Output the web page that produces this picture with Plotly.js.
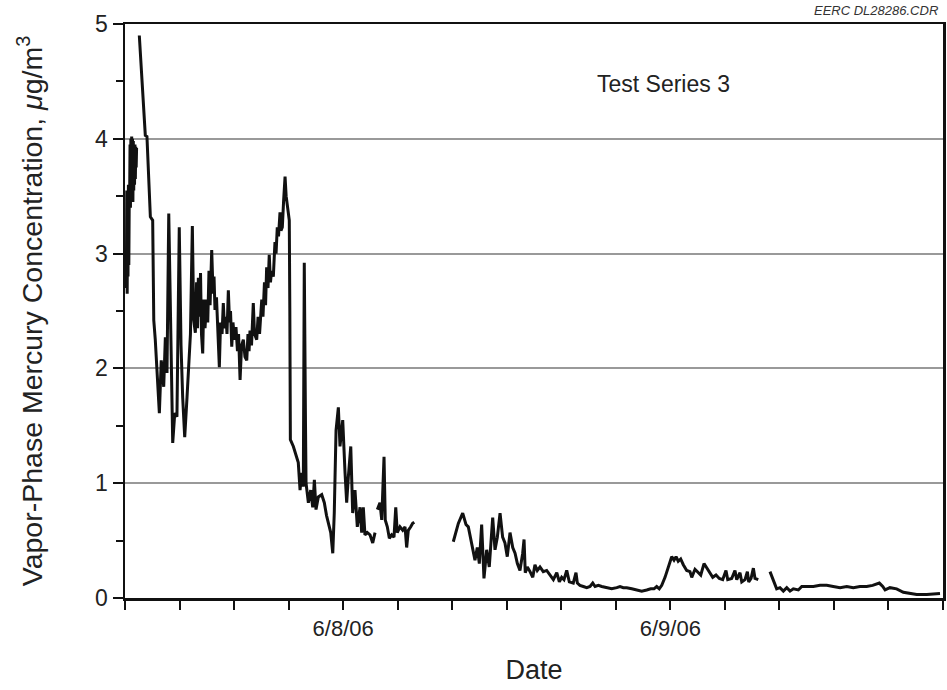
<!DOCTYPE html>
<html>
<head>
<meta charset="utf-8">
<script src="https://cdn.plot.ly/plotly-3.0.1.min.js"></script>
<style>html,body{margin:0;padding:0;background:#fff;}#chart{width:947px;height:690px;}</style>
</head>
<body>
<div id="chart"></div>
<script>
// Elapsed hours since 2006-06-07 08:00 (null = gap in record)
const hours = [
 0.10,0.13,0.16,0.19,0.22,0.25,0.28,0.31,0.34,0.37,0.40,0.43,0.46,0.49,0.52,0.55,0.58,0.61,0.64,0.67,0.70,0.73,0.76,0.79,0.82,0.85, null,
 1.05,1.49,1.61,1.86,2.03,2.11,2.22,2.35,2.52,2.66,2.84,2.96,3.08,3.21,3.34,3.45,3.50,3.65,3.81,3.98,4.11,4.23,4.38,4.55,4.67,4.80,4.94,5.04,
 5.16,5.25,5.32,5.38,5.47,5.54,5.61,5.70,5.78,5.87,5.99,6.07,6.16,6.24,6.36,6.46,6.53,6.60,6.71,6.82,6.92,7.01,7.12,7.21,7.30,7.41,7.48,7.58,7.67,7.74,7.83,7.92,8.03,8.14,8.25,8.33,8.44,8.55,8.68,8.80,8.93,9.02,9.10,9.17,9.28,9.41,9.50,9.66,9.76,9.87,10.03,10.12,10.23,10.31,10.39,10.49,10.58,10.67,10.75,10.88,11.00,11.08,11.17,11.26,11.37,11.44,11.54,11.63,11.74,11.82,11.91,11.99,12.05,12.09,12.13,
 12.35,12.54,12.71,12.84,12.96,13.08,13.15,13.24,13.28,13.45,13.62,13.77,13.89,14.01,14.18,14.43,14.62,14.78,14.91,15.09,15.24,15.35,15.48,15.65,15.77,15.97,16.14,16.26,16.38,16.56,16.70,16.87,17.04,17.24,17.36,17.48,17.60,17.77,17.97,18.17,18.34, null,
 18.51,18.70,18.83,18.92,19.00,19.09,19.24,19.39,19.56,19.73,19.86,19.97,20.17,20.37,20.54,20.66,20.78,20.96,21.10,21.22, null,
 24.08,24.45,24.77,25.01,25.18,25.43,25.67,25.84,25.99,26.16,26.33,26.53,26.72,26.97,27.14,27.31,27.51,27.70,27.87,28.04,28.24,28.44,28.61,28.78,28.97,29.17,29.27,29.36,29.51,29.71,29.91,30.07,30.24,30.44,30.68,30.93,31.17,31.42,31.67,31.86,32.03,32.20,
 32.40,32.59,32.88,33.08,33.18,33.37,33.62,33.87,34.11,34.31,34.48,34.72,34.97,35.33,35.70,36.07,36.31,36.55,36.80,37.17,37.53,37.90,38.27,38.56,38.80,39.00,39.19,39.37,39.61,39.85,40.10,40.27,40.42,40.58,40.76,40.95,41.20,41.44,
 41.57,41.81,42.05,42.23,42.47,42.67,42.86,43.11,43.35,43.59,43.84,44.08,44.21,44.50,44.74,44.87,45.11,45.24,45.48,45.65,45.75,45.92,46.09,46.21,46.45, null,
 47.31,47.55,47.80,48.04,48.29,48.54,48.78,49.02,49.39,49.64,50.00,50.49,50.98,51.47,51.95,52.45,52.94,53.42,53.91,54.40,54.84,55.33,55.58,55.75,56.11,56.60,57.09,57.58,58.07,58.81,59.78
];
const mercury = [
 2.70,3.55,2.65,3.50,2.80,3.60,2.90,3.45,3.50,3.95,3.40,4.00,3.45,4.02,3.50,4.00,3.45,3.98,3.55,3.95,3.60,3.95,3.65,3.93,3.75,3.92, null,
 4.90,4.03,4.02,3.32,3.29,2.42,2.25,1.96,1.61,2.07,1.84,2.27,1.96,3.35,2.30,1.58,1.35,1.61,1.58,3.23,2.20,1.75,1.40,1.75,2.01,2.30,3.24,2.42,
 2.31,2.75,2.35,2.79,2.45,2.83,2.30,2.13,2.60,2.35,2.60,2.40,2.85,2.55,3.03,2.65,2.80,2.51,2.62,2.20,2.01,2.40,2.30,2.57,2.35,2.45,2.30,2.68,2.40,2.50,2.19,2.40,2.25,2.36,2.15,2.30,1.90,2.20,2.25,2.10,2.07,2.30,2.15,2.33,2.20,2.57,2.30,2.25,2.45,2.30,2.60,2.45,2.75,2.55,2.88,2.70,2.99,2.75,2.85,2.80,3.10,3.00,3.23,3.15,3.36,3.20,3.23,3.45,3.67,3.50,3.41,3.35,3.29,2.50,1.38,
 1.32,1.25,1.18,0.94,1.09,0.97,2.92,1.50,1.00,0.83,0.94,0.79,1.03,0.77,0.88,0.90,0.83,0.72,0.65,0.57,0.39,0.74,1.46,1.66,1.32,1.55,1.09,0.83,1.05,1.32,0.74,0.94,0.62,0.79,0.57,0.79,0.55,0.57,0.55,0.48,0.57, null,
 0.77,0.83,0.68,0.90,1.23,0.68,0.62,0.52,0.55,0.53,0.79,0.57,0.62,0.59,0.62,0.44,0.59,0.62,0.65,0.66, null,
 0.49,0.65,0.74,0.64,0.62,0.48,0.33,0.44,0.30,0.64,0.17,0.42,0.27,0.70,0.42,0.53,0.74,0.53,0.48,0.36,0.57,0.44,0.39,0.30,0.24,0.39,0.51,0.22,0.27,0.23,0.18,0.29,0.24,0.27,0.23,0.24,0.20,0.16,0.22,0.14,0.18,0.16,
 0.24,0.14,0.13,0.22,0.13,0.11,0.10,0.09,0.10,0.13,0.10,0.11,0.10,0.09,0.08,0.09,0.10,0.09,0.09,0.08,0.07,0.06,0.07,0.08,0.08,0.10,0.08,0.11,0.18,0.27,0.36,0.33,0.36,0.32,0.34,0.29,0.24,0.23,
 0.18,0.25,0.22,0.20,0.30,0.26,0.22,0.18,0.20,0.17,0.16,0.24,0.16,0.17,0.24,0.16,0.22,0.14,0.16,0.23,0.14,0.17,0.26,0.17,0.16, null,
 0.23,0.16,0.08,0.09,0.06,0.09,0.06,0.08,0.07,0.10,0.10,0.10,0.11,0.11,0.10,0.09,0.10,0.09,0.10,0.10,0.11,0.13,0.10,0.07,0.09,0.08,0.05,0.04,0.03,0.03,0.04
];
const startTime = '2006-06-07T08:00:00Z';
const endHours = 60;
const dayLabelFormat = '%-m/%-d/%y';
const yTicks = [0,1,2,3,4,5];

const t0 = Date.parse(startTime);
function toStamp(h){
  if (h === null) return null;
  return new Date(t0 + h*3600000).toISOString().replace('T',' ').replace('Z','').slice(0,19);
}
const xs = hours.map(toStamp);

const font = 'Liberation Sans, Arial, Helvetica, sans-serif';
const trace = {
  x: xs, y: mercury, type: 'scatter', mode: 'lines',
  connectgaps: false,
  line: {color: '#111', width: 3}, hoverinfo: 'skip'
};
const layout = {
  width: 947, height: 690,
  margin: {l: 125, r: 4, t: 24, b: 92},
  paper_bgcolor: '#fff', plot_bgcolor: '#fff',
  showlegend: false,
  font: {family: font, color: '#222'},
  xaxis: {
    type: 'date',
    range: [toStamp(0), toStamp(endHours)],
    tickmode: 'linear', tick0: '2006-06-08', dtick: 86400000, tickformat: dayLabelFormat,
    ticks: 'outside', ticklen: 9, tickwidth: 2, tickcolor: '#111',
    minor: {tick0: toStamp(0), dtick: 4*3600000, ticks: 'outside', ticklen: 9, tickwidth: 2, tickcolor: '#111', showgrid: false},
    showline: true, linecolor: '#111', linewidth: 2.5, mirror: true,
    showgrid: false, zeroline: false,
    tickfont: {size: 22, family: font, color: '#222'},
    title: {text: 'Date', font: {size: 27, family: font, color: '#222'}, standoff: 20}
  },
  yaxis: {
    range: [0, 5],
    tickmode: 'array', tickvals: yTicks,
    ticks: 'outside', ticklen: 10, tickwidth: 2, tickcolor: '#111',
    minor: {dtick: 0.5, ticks: 'outside', ticklen: 7, tickwidth: 2, tickcolor: '#111', showgrid: false},
    showline: true, linecolor: '#111', linewidth: 2.5, mirror: true,
    showgrid: true, gridcolor: '#999', gridwidth: 2,
    zeroline: false,
    tickfont: {size: 23, family: font, color: '#222'},
    title: {text: 'Vapor-Phase Mercury Concentration, <i>μ</i>g/m<sup>3</sup>', font: {size: 28.5, family: font, color: '#222'}, standoff: 44}
  },
  annotations: [
    {xref: 'paper', yref: 'paper', x: 0.658, y: 0.895, text: 'Test Series 3', showarrow: false,
     font: {size: 23, family: font, color: '#222'}, xanchor: 'center', yanchor: 'middle'},
    {xref: 'paper', yref: 'paper', x: 0.996, y: 1.0, yshift: 4, text: '<i>EERC DL28286.CDR</i>', showarrow: false,
     font: {size: 13, family: font, color: '#333'}, xanchor: 'right', yanchor: 'bottom'}
  ]
};
Plotly.newPlot('chart', [trace], layout, {displayModeBar: false, staticPlot: true});
</script>
</body>
</html>
